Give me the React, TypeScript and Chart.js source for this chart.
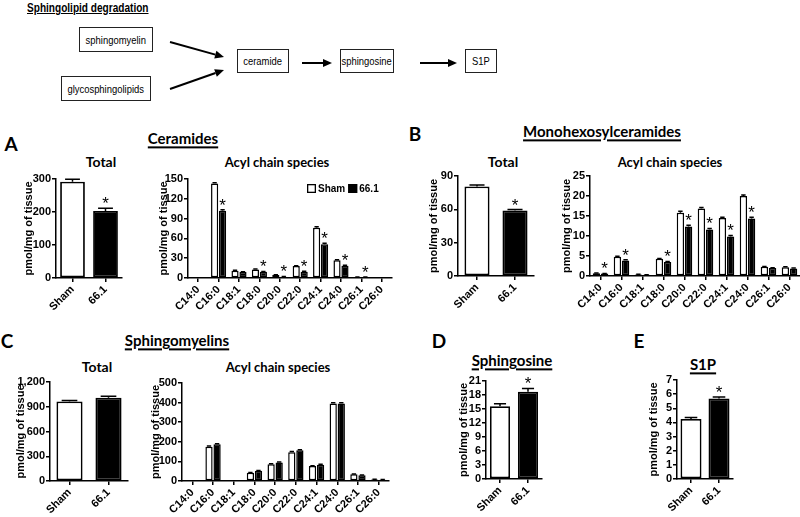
import React, { useEffect, useRef } from 'react';
import { Chart, registerables } from 'chart.js';

Chart.register(...registerables);

// ---------- data ----------
const groupLabels = ['Sham', '66.1'];
const acylSpecies = ['C14:0', 'C16:0', 'C18:1', 'C18:0', 'C20:0', 'C22:0', 'C24:1', 'C24:0', 'C26:1', 'C26:0'];
const seriesNames = ['Sham', '66.1'];
const yAxisTitle = 'pmol/mg of tissue';

// A: Ceramides
const ceramideTotal = [292, 203];
const ceramideTotalErr = [7, 8];
const ceramideTotalStar = [false, true];
const ceramideSham = [0, 143, 11, 13, 4.5, 18, 76, 27, 1.5, 0];
const ceramideShamErr = [0, 1.5, 0.6, 0.6, 0.4, 0.6, 1.5, 0.8, 0.2, 0];
const ceramide661 = [0, 102, 9, 9.5, 2, 9.5, 51, 18.5, 1.5, 0];
const ceramide661Err = [0, 1.5, 0.5, 0.5, 0.3, 0.6, 1.5, 0.8, 0.2, 0];
const ceramideStar = [false, true, false, true, true, true, true, true, true, false];

// B: Monohexosylceramides
const monoTotal = [80.5, 59];
const monoTotalErr = [1.3, 0.8];
const monoTotalStar = [false, true];
const monoSham = [0.7, 4.8, 0.4, 4.3, 15.8, 16.9, 14.5, 20, 2.3, 2.2];
const monoShamErr = [0.05, 0.15, 0.03, 0.1, 0.4, 0.2, 0.2, 0.25, 0.1, 0.1];
const mono661 = [0.6, 3.9, 0.3, 3.5, 12.4, 11.6, 9.9, 14.4, 2.0, 1.9];
const mono661Err = [0.05, 0.15, 0.03, 0.15, 0.3, 0.3, 0.25, 0.3, 0.08, 0.1];
const monoStar = [true, true, false, true, true, true, true, true, false, false];

// C: Sphingomyelins
const smTotal = [965, 1010];
const smTotalErr = [12, 18];
const smTotalStar = [false, false];
const smSham = [2, 175, 4, 42, 86, 147, 76, 395, 34, 8];
const smShamErr = [0, 3, 0, 2, 2, 3, 2, 4, 2, 1];
const sm661 = [2, 187, 4, 52, 95, 157, 83, 395, 29, 7];
const sm661Err = [0, 3, 0, 2, 2, 3, 2, 4, 2, 1];
const smStar = [false, false, false, false, false, false, false, false, false, false];

// D: Sphingosine
const sphingosine = [15.6, 18.7];
const sphingosineErr = [0.5, 0.7];
const sphingosineStar = [false, true];

// E: S1P
const s1p = [4.25, 5.7];
const s1pErr = [0.1, 0.1];
const s1pStar = [false, true];

// ---------- styles ----------
const ARIAL = '"Liberation Sans", Arial, sans-serif';
const LATO = 'Lato, "Liberation Sans", sans-serif';

const errorBarPlugin = {
  id: 'errorBars',
  afterDatasetsDraw(chart: any, _args: any, opts: any) {
    const ctx = chart.ctx;
    const yScale = chart.scales.y;
    const errors: number[][] = opts.errors || [];
    const stars: boolean[][] = opts.stars || [];
    ctx.save();
    chart.data.datasets.forEach((ds: any, di: number) => {
      const meta = chart.getDatasetMeta(di);
      meta.data.forEach((bar: any, i: number) => {
        const v = ds.data[i] as number;
        const e = (errors[di] && errors[di][i]) || 0;
        const x = bar.x;
        const w = bar.width;
        const yBar = yScale.getPixelForValue(v);
        const yTop = yScale.getPixelForValue(v + e);
        if (e > 0) {
          ctx.strokeStyle = '#000';
          ctx.lineWidth = 1.5;
          ctx.beginPath();
          ctx.moveTo(x, yBar);
          ctx.lineTo(x, yTop);
          ctx.moveTo(x - w * 0.3, yTop);
          ctx.lineTo(x + w * 0.3, yTop);
          ctx.stroke();
        }
        if (stars[di] && stars[di][i]) {
          ctx.fillStyle = '#000';
          ctx.font = '17px ' + ARIAL;
          ctx.textAlign = 'center';
          ctx.textBaseline = 'alphabetic';
          ctx.fillText('*', x, yTop + 1);
        }
      });
    });
    ctx.restore();
  },
};

const cornerLegendPlugin = {
  id: 'cornerLegend',
  afterDraw(chart: any, _args: any, opts: any) {
    if (!opts || !opts.show) return;
    const ctx = chart.ctx;
    const area = chart.chartArea;
    ctx.save();
    ctx.font = 'bold 10px ' + ARIAL;
    let x = area.left + opts.dx;
    const y = area.top + opts.dy;
    chart.data.datasets.forEach((ds: any) => {
      ctx.fillStyle = ds.backgroundColor;
      ctx.fillRect(x, y, 9, 9);
      ctx.strokeStyle = '#000';
      ctx.lineWidth = 1.3;
      ctx.strokeRect(x + 0.65, y + 0.65, 7.7, 7.7);
      ctx.fillStyle = '#000';
      ctx.textAlign = 'left';
      ctx.textBaseline = 'middle';
      ctx.fillText(ds.label, x + 11, y + 5);
      x += 11 + ctx.measureText(ds.label).width + 3;
    });
    ctx.restore();
  },
};

type Rect = { left: number; top: number; right: number; bottom: number };

interface PanelProps {
  plot: Rect;
  yW: number;
  labels: string[];
  datasets: any[];
  yMax: number;
  yStep: number;
  errors: number[][];
  stars: boolean[][];
  legend?: boolean;
}

function BarPanel(p: PanelProps) {
  const ref = useRef<HTMLCanvasElement>(null);
  const padT = 12;
  const padR = 10;
  const xH = 48;
  const left = p.plot.left - p.yW;
  const top = p.plot.top - padT;
  const width = p.yW + (p.plot.right - p.plot.left) + padR;
  const height = padT + (p.plot.bottom - p.plot.top) + xH;

  useEffect(() => {
    if (!ref.current) return;
    const tickFont = { family: ARIAL, size: 11, weight: 'bold' as const };
    const chart = new Chart(ref.current, {
      type: 'bar',
      data: { labels: p.labels, datasets: p.datasets },
      options: {
        responsive: false,
        animation: false,
        devicePixelRatio: 1,
        layout: { padding: { top: padT, right: padR, left: 0, bottom: 0 } },
        plugins: {
          legend: { display: false },
          tooltip: { enabled: false },
          errorBars: { errors: p.errors, stars: p.stars },
          cornerLegend: { show: !!p.legend, dx: 119, dy: 5 },
        } as any,
        scales: {
          x: {
            type: 'category',
            grid: {
              display: true,
              drawOnChartArea: false,
              drawTicks: true,
              tickLength: 4,
              color: '#000',
              lineWidth: 1.5,
              offset: false,
            },
            border: { display: true, color: '#000', width: 1.5 },
            ticks: {
              color: '#000',
              font: tickFont,
              minRotation: 45,
              maxRotation: 45,
              autoSkip: false,
              padding: 1,
            },
            afterFit: (s: any) => {
              s.height = xH;
            },
          },
          y: {
            min: 0,
            max: p.yMax,
            grid: {
              display: true,
              drawOnChartArea: false,
              drawTicks: true,
              tickLength: 4,
              color: '#000',
              lineWidth: 1.5,
            },
            border: { display: true, color: '#000', width: 1.5 },
            ticks: { stepSize: p.yStep, color: '#000', font: tickFont, padding: 1, autoSkip: false },
            title: {
              display: true,
              text: yAxisTitle,
              color: '#000',
              font: { family: ARIAL, size: 11, weight: 'bold' },
              padding: { top: 4, bottom: 0 },
            },
            afterFit: (s: any) => {
              s.width = p.yW;
            },
          },
        },
      } as any,
      plugins: [errorBarPlugin, cornerLegendPlugin],
    });
    return () => chart.destroy();
  }, []);

  return (
    <canvas
      ref={ref}
      width={width}
      height={height}
      style={{ position: 'absolute', left, top, width, height }}
    />
  );
}

function totalDatasets(values: number[], barPct: number) {
  return [
    {
      label: 'Total',
      data: values,
      backgroundColor: ['#ffffff', '#000000'],
      borderColor: '#000',
      borderWidth: 1.8,
      borderSkipped: false,
      barPercentage: barPct,
      categoryPercentage: 1,
    },
  ];
}

function acylDatasets(sham: number[], treated: number[]) {
  const common = {
    borderColor: '#000',
    borderWidth: 1.5,
    borderSkipped: false,
    barPercentage: 0.9,
    categoryPercentage: 0.78,
  };
  return [
    { ...common, label: seriesNames[0], data: sham, backgroundColor: '#ffffff' },
    { ...common, label: seriesNames[1], data: treated, backgroundColor: '#000000' },
  ];
}

function Label(props: { x: number; y: number; size: number; underline?: boolean; children: React.ReactNode }) {
  return (
    <div
      style={{
        position: 'absolute',
        left: props.x,
        top: props.y,
        transform: 'translate(-50%, -50%)',
        whiteSpace: 'nowrap',
        fontFamily: LATO,
        fontSize: props.size,
        fontWeight: 'bold',
        lineHeight: 1.15,
        color: '#000',
        textDecoration: props.underline ? 'underline' : 'none',
        textDecorationThickness: props.underline ? '1.5px' : undefined,
        textUnderlineOffset: props.underline ? '2px' : undefined,
      }}
    >
      {props.children}
    </div>
  );
}

function Narrow(props: { children: React.ReactNode; origin?: string }) {
  return (
    <span
      style={{
        display: 'inline-block',
        transform: 'scaleX(0.82)',
        transformOrigin: props.origin || 'center',
        whiteSpace: 'nowrap',
      }}
    >
      {props.children}
    </span>
  );
}

function SchemeBox(props: { left: number; top: number; width: number; height: number; text: string }) {
  return (
    <div
      style={{
        position: 'absolute',
        left: props.left,
        top: props.top,
        width: props.width,
        height: props.height,
        boxSizing: 'border-box',
        border: '1.2px solid #222',
        display: 'flex',
        alignItems: 'center',
        justifyContent: 'center',
        fontFamily: ARIAL,
        fontSize: 11.5,
        color: '#000',
        whiteSpace: 'nowrap',
        overflow: 'visible',
      }}
    >
      <Narrow>{props.text}</Narrow>
    </div>
  );
}

function Arrow(props: { x1: number; y1: number; x2: number; y2: number }) {
  const { x1, y1, x2, y2 } = props;
  const ang = Math.atan2(y2 - y1, x2 - x1);
  const L = 9;
  const W = 4;
  const bx = x2 - L * Math.cos(ang);
  const by = y2 - L * Math.sin(ang);
  const px = -Math.sin(ang) * W;
  const py = Math.cos(ang) * W;
  return (
    <g>
      <line x1={x1} y1={y1} x2={bx} y2={by} stroke="#000" strokeWidth={2} />
      <polygon points={`${x2},${y2} ${bx + px},${by + py} ${bx - px},${by - py}`} fill="#000" />
    </g>
  );
}

export default function App() {
  useEffect(() => {
    document.body.style.margin = '0';
    document.body.style.overflow = 'hidden';
  }, []);

  return (
    <div
      style={{
        position: 'fixed',
        left: 0,
        top: 0,
        width: 800,
        height: 517,
        overflow: 'hidden',
        background: '#fff',
      }}
    >
      {/* Schematic */}
      <div
        style={{
          position: 'absolute',
          left: 27,
          top: 1,
          fontFamily: ARIAL,
          fontWeight: 'bold',
          fontSize: 12,
          textDecoration: 'underline',
          color: '#000',
          whiteSpace: 'nowrap',
          transform: 'scaleX(0.84)',
          transformOrigin: 'left center',
        }}
      >
        Sphingolipid degradation
      </div>
      <SchemeBox left={79} top={27} width={74} height={25} text="sphingomyelin" />
      <SchemeBox left={61} top={76} width={90} height={25} text="glycosphingolipids" />
      <SchemeBox left={237} top={49} width={52} height={24} text="ceramide" />
      <SchemeBox left={340} top={49} width={54} height={24} text="sphingosine" />
      <SchemeBox left={465} top={49} width={32} height={24} text="S1P" />
      <svg style={{ position: 'absolute', left: 0, top: 0 }} width={800} height={120}>
        <Arrow x1={170} y1={42} x2={224} y2={57} />
        <Arrow x1={170} y1={89} x2={224} y2={70} />
        <Arrow x1={302} y1={63} x2={332} y2={63} />
        <Arrow x1={420} y1={63} x2={457} y2={63} />
      </svg>

      {/* Panel letters */}
      <Label x={11} y={144} size={19}>A</Label>
      <Label x={415} y={134} size={19}>B</Label>
      <Label x={7} y={341} size={19}>C</Label>
      <Label x={439} y={341} size={19}>D</Label>
      <Label x={639} y={341} size={19}>E</Label>

      {/* Section headings */}
      <Label x={183} y={139} size={15} underline>Ceramides</Label>
      <Label x={602} y={132} size={15} underline>Monohexosylceramides</Label>
      <Label x={177} y={341} size={15} underline>Sphingomyelins</Label>
      <Label x={512} y={361} size={15} underline>Sphingosine</Label>
      <Label x={703} y={365} size={15} underline>S1P</Label>

      {/* Sub titles */}
      <Label x={101} y={162} size={14}>Total</Label>
      <Label x={277} y={162} size={13}>Acyl chain species</Label>
      <Label x={503} y={162} size={14}>Total</Label>
      <Label x={670} y={162} size={13}>Acyl chain species</Label>
      <Label x={97} y={367} size={14}>Total</Label>
      <Label x={278} y={367} size={13}>Acyl chain species</Label>

      {/* A */}
      <BarPanel
        plot={{ left: 56, top: 179, right: 122, bottom: 278 }}
        yW={38}
        labels={groupLabels}
        datasets={totalDatasets(ceramideTotal, 0.75)}
        yMax={300}
        yStep={100}
        errors={[ceramideTotalErr]}
        stars={[ceramideTotalStar]}
      />
      <BarPanel
        plot={{ left: 188, top: 179, right: 392, bottom: 278 }}
        yW={35}
        labels={acylSpecies}
        datasets={acylDatasets(ceramideSham, ceramide661)}
        yMax={150}
        yStep={30}
        errors={[ceramideShamErr, ceramide661Err]}
        stars={[[], ceramideStar]}
        legend
      />

      {/* B */}
      <BarPanel
        plot={{ left: 458, top: 176, right: 534, bottom: 276 }}
        yW={35}
        labels={groupLabels}
        datasets={totalDatasets(monoTotal, 0.66)}
        yMax={90}
        yStep={30}
        errors={[monoTotalErr]}
        stars={[monoTotalStar]}
      />
      <BarPanel
        plot={{ left: 590, top: 176, right: 800, bottom: 276 }}
        yW={34}
        labels={acylSpecies}
        datasets={acylDatasets(monoSham, mono661)}
        yMax={25}
        yStep={5}
        errors={[monoShamErr, mono661Err]}
        stars={[[], monoStar]}
      />

      {/* C */}
      <BarPanel
        plot={{ left: 50, top: 382, right: 128, bottom: 481 }}
        yW={40}
        labels={groupLabels}
        datasets={totalDatasets(smTotal, 0.67)}
        yMax={1200}
        yStep={300}
        errors={[smTotalErr]}
        stars={[smTotalStar]}
      />
      <BarPanel
        plot={{ left: 182, top: 383, right: 389, bottom: 481 }}
        yW={37}
        labels={acylSpecies}
        datasets={acylDatasets(smSham, sm661)}
        yMax={500}
        yStep={100}
        errors={[smShamErr, sm661Err]}
        stars={[[], smStar]}
      />

      {/* D */}
      <BarPanel
        plot={{ left: 486, top: 381, right: 542, bottom: 479 }}
        yW={33}
        labels={groupLabels}
        datasets={totalDatasets(sphingosine, 0.72)}
        yMax={21}
        yStep={3}
        errors={[sphingosineErr]}
        stars={[sphingosineStar]}
      />

      {/* E */}
      <BarPanel
        plot={{ left: 677, top: 380, right: 733, bottom: 479 }}
        yW={34}
        labels={groupLabels}
        datasets={totalDatasets(s1p, 0.75)}
        yMax={7}
        yStep={1}
        errors={[s1pErr]}
        stars={[s1pStar]}
      />
    </div>
  );
}
